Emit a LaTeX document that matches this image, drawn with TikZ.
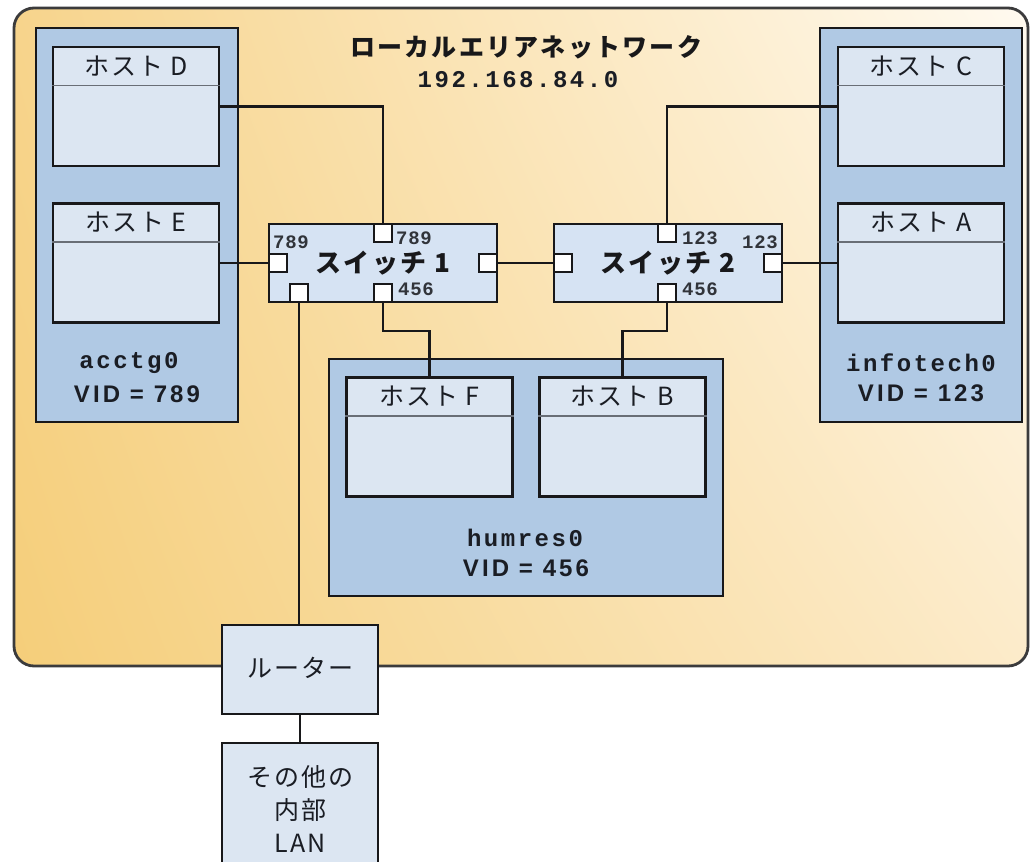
\documentclass[tikz,border=0pt]{standalone}
\usepackage{fontspec}
\usetikzlibrary{shadings}
\newfontfamily\jpfont[LetterSpace=8]{Noto Sans CJK JP}
\newfontfamily\jptitle[LetterSpace=9]{Noto Sans CJK JP}
\newfontfamily\monofont[LetterSpace=10.5]{Liberation Mono}
\newfontfamily\portfont[LetterSpace=4]{Liberation Mono}
\newfontfamily\vidfont[LetterSpace=13]{Liberation Sans}
\definecolor{ink}{RGB}{24,24,26}
\definecolor{vlanblue}{RGB}{176,201,228}
\definecolor{hostfill}{RGB}{220,230,242}
\definecolor{swfill}{RGB}{214,227,243}
\definecolor{hdr}{RGB}{105,110,118}
\definecolor{txt}{RGB}{26,29,36}
\definecolor{bgLL}{RGB}{245,206,122}
\definecolor{bgUL}{RGB}{247,212,140}
\definecolor{bgUR}{RGB}{255,250,240}
\definecolor{bgLR}{RGB}{252,235,202}
\begin{document}
\begin{tikzpicture}[x=1pt,y=-1pt,
  box/.style={draw=ink, line width=2.7pt, rectangle, inner sep=0pt},
  vlan/.style={box, fill=vlanblue},
  host/.style={box, fill=hostfill, minimum width=166pt, minimum height=119pt},
  sw/.style={box, fill=swfill, minimum width=228pt, minimum height=78pt, text=ink,
    font=\jptitle\bfseries\fontsize{26}{28}\selectfont},
  port/.style={draw=ink, line width=2.3pt, fill=white, rectangle, minimum size=18pt, inner sep=0pt},
  wire/.style={draw=ink, line width=2.6pt},
  hdrline/.style={draw=hdr, line width=1.5pt},
  hostlbl/.style={inner sep=0pt, text=txt, font=\jpfont\fontsize{25}{28}\selectfont},
  jplbl/.style={inner sep=0pt, text=txt, align=center, font=\jpfont\fontsize{25}{33}\selectfont},
  monolbl/.style={inner sep=0pt, text=txt, font=\monofont\bfseries\fontsize{24}{26}\selectfont},
  vidlbl/.style={inner sep=0pt, text=txt, font=\vidfont\bfseries\fontsize{24}{26}\selectfont},
  portlbl/.style={inner sep=0pt, text=txt!90, font=\portfont\bfseries\fontsize{19}{20}\selectfont},
]
\clip (0,0) rectangle (1031,862);
\fill[white] (0,0) rectangle (1031,862);

% local area network background
\shade[rounded corners=20pt, lower left=bgLL, upper left=bgUL, upper right=bgUR, lower right=bgLR]
  (14,8) rectangle (1028,666);
\draw[draw=ink!85, line width=2.8pt, rounded corners=20pt] (14,8) rectangle (1028,666);

\node[inner sep=0pt, text=ink, font=\jptitle\bfseries\fontsize{25}{27}\selectfont] (title) at (526,47) {ローカルエリアネットワーク};
\node[monolbl] (ip) at (518,80) {192.168.84.0};

% VLAN boxes
\node[vlan, minimum width=202pt, minimum height=394pt] (vA) at (137,225) {};
\node[vlan, minimum width=202pt, minimum height=394pt] (vI) at (921,225) {};
\node[vlan, minimum width=394pt, minimum height=237pt] (vH) at (526,477.5) {};

\node[monolbl] (vAn) at (129,363) {acctg0};
\node[vidlbl] (vAv) at (137,394) {VID = 789};
\node[monolbl] (vIn) at (921,363) {infotech0};
\node[vidlbl] (vIv) at (921,393) {VID = 123};
\node[monolbl] (vHn) at (525,538) {humres0};
\node[vidlbl] (vHv) at (526,568) {VID = 456};

% hosts
\foreach \n/\x/\y/\t in {hD/136/106.5/ホスト D, hE/136/263/ホスト E, hC/921/106.5/ホスト C, hA/921/263/ホスト A, hF/429.5/437/ホスト F, hB/622.5/437/ホスト B}{
  \node[host] (\n) at (\x,\y) {};
  \draw[hdrline] ([yshift=-40pt]\n.north west) -- ([yshift=-40pt]\n.north east);
  \node[hostlbl] (\n l) at ([yshift=-20pt]\n.north) {\t};
}

% switches
\node[sw] (s1) at (383,263) {スイッチ 1};
\node[sw] (s2) at (668,263) {スイッチ 2};

% connectors
\draw[wire] (hD.east) -| (383,224);
\draw[wire] (hC.west) -| (667,224);
\draw[wire] (hE.east) -- (s1.west);
\draw[wire] (s1.east) -- (s2.west);
\draw[wire] (s2.east) -- (hA.west);
\draw[wire] (383,302) -- (383,331) -| (hF.north);
\draw[wire] (667,302) -- (667,331) -| (hB.north);

% router and LAN
\node[box, fill=hostfill, minimum width=156pt, minimum height=89pt] (rt) at (300,669.5) {};
\node[jplbl] (rtl) at (300,668) {ルーター};
\node[box, fill=hostfill, minimum width=156pt, minimum height=144pt] (lan) at (300,815) {};
\node[jplbl] (lanl) at (300,809) {その他の\\内部\\LAN};
\draw[wire] (299,302) -- (299,625);
\draw[wire] (rt.south) -- (lan.north);

% ports
\node[port] (s1t) at (383,233) {};
\node[port] (s1l) at (278,263) {};
\node[port] (s1r) at (488,263) {};
\node[port] (s1bl) at (299,293) {};
\node[port] (s1b) at (383,293) {};
\node[port] (s2t) at (667,233) {};
\node[port] (s2l) at (563,263) {};
\node[port] (s2r) at (773,263) {};
\node[port] (s2b) at (667,293) {};

\node[portlbl] (p1) at (291,242) {789};
\node[portlbl] (p2) at (414,238) {789};
\node[portlbl] (p3) at (416,289) {456};
\node[portlbl] (p4) at (700,238) {123};
\node[portlbl] (p5) at (760,242) {123};
\node[portlbl] (p6) at (700,289) {456};
\end{tikzpicture}
\end{document}
